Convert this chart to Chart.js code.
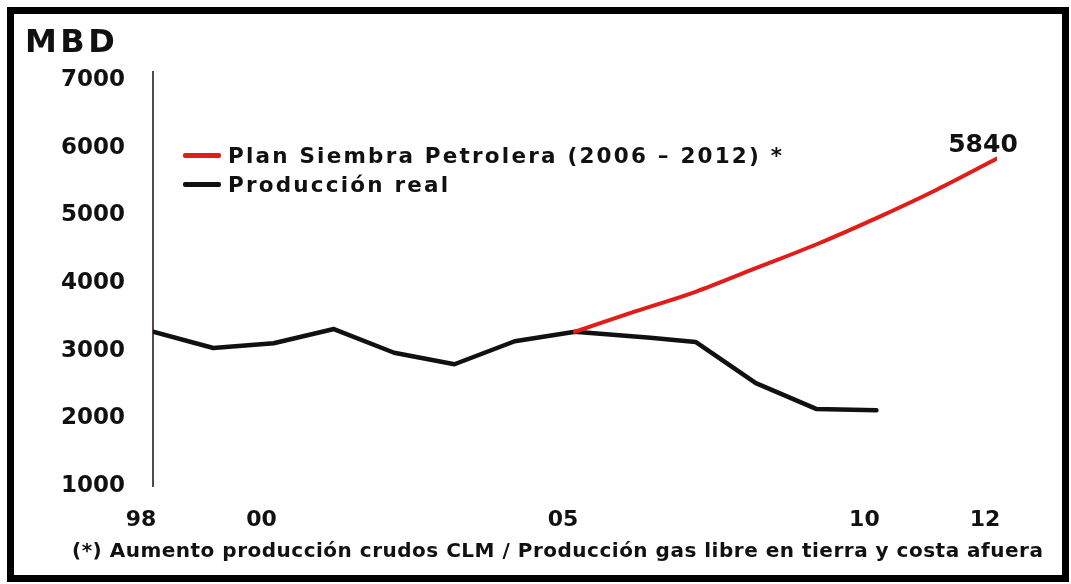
<!DOCTYPE html>
<html>
<head>
<meta charset="utf-8">
<script src="https://cdn.jsdelivr.net/npm/chart.js@4"></script>
<style>
  html, body { margin: 0; padding: 0; background: #fff; }
  #wrap { position: absolute; left: 0; top: 0; width: 1071px; height: 584px; }
  #frame { position: absolute; left: 7px; top: 7px; width: 1062px; height: 575px; border: 7px solid #000; box-sizing: border-box; pointer-events: none; }
  .txt { position: absolute; font-family: "DejaVu Sans", sans-serif; font-weight: bold; color: #111; white-space: nowrap; }
  #unit { left: 25px; top: 22px; font-size: 32px; line-height: 38px; letter-spacing: 3.5px; }
  #legend { left: 183px; top: 141px; font-size: 21.5px; letter-spacing: 2.2px; }
  #note { left: 72px; top: 538px; font-size: 20px; line-height: 24px; letter-spacing: 0.5px; }
  .row { display: flex; align-items: center; height: 29px; }
  .sw { display: inline-block; width: 38px; height: 5px; margin-right: 7px; border-radius: 2px; }
</style>
</head>
<body>
<div id="wrap"><canvas id="c" width="1071" height="584"></canvas></div>
<div id="unit" class="txt"></div>
<div id="legend" class="txt"></div>
<div id="note" class="txt"></div>
<div id="frame"></div>
<script>
// ---- data ----
const planLabel = "Plan Siembra Petrolera (2006 \u2013 2012) *";
const prodLabel = "Producción real";
const planYears = [2005, 2006, 2007, 2008, 2009, 2010, 2011, 2012];
const planValues = [3280, 3580, 3870, 4220, 4570, 4960, 5380, 5840];
const prodYears = [1998, 1999, 2000, 2001, 2002, 2003, 2004, 2005, 2006.25, 2007, 2008, 2009, 2010];
const prodValues = [3280, 3040, 3110, 3320, 2970, 2800, 3140, 3280, 3190, 3130, 2520, 2140, 2120];
const xTickYears = [1998, 2000, 2005, 2010, 2012];
const xTickLabels = ["98", "00", "05", "10", "12"];
const yTickValues = [1000, 2000, 3000, 4000, 5000, 6000, 7000];
const unitTitle = "MBD";
const footnote = "(*) Aumento producción crudos CLM / Producción gas libre en tierra y costa afuera";

const planColor = "#e11d1a";
const prodColor = "#111111";

document.getElementById("unit").textContent = unitTitle;
document.getElementById("note").textContent = footnote;

const endLabelPlugin = {
  id: "endLabel",
  afterDatasetsDraw(chart) {
    const meta = chart.getDatasetMeta(0);
    const pt = meta.data[meta.data.length - 1];
    if (!pt) return;
    const ctx = chart.ctx;
    ctx.save();
    ctx.font = "bold 25px 'DejaVu Sans', sans-serif";
    ctx.fillStyle = "#111";
    ctx.textAlign = "center";
    ctx.textBaseline = "middle";
    ctx.fillText(String(planValues[planValues.length - 1]), pt.x - 14, pt.y - 13);
    ctx.restore();
  }
};

const chart = new Chart(document.getElementById("c"), {
  type: "line",
  data: {
    datasets: [
      {
        label: planLabel,
        data: planYears.map((y, i) => ({ x: y, y: planValues[i] })),
        borderColor: planColor,
        borderWidth: 4,
        pointRadius: 0,
        cubicInterpolationMode: "monotone",
        borderCapStyle: "round",
        fill: false
      },
      {
        label: prodLabel,
        data: prodYears.map((y, i) => ({ x: y, y: prodValues[i] })),
        borderColor: prodColor,
        borderWidth: 4.5,
        pointRadius: 0,
        tension: 0,
        borderJoinStyle: "round",
        borderCapStyle: "round",
        fill: false
      }
    ]
  },
  options: {
    responsive: false,
    animation: false,
    devicePixelRatio: 1,
    layout: { padding: { left: 25, right: 74, top: 72, bottom: 45 } },
    plugins: {
      legend: { display: false },
      tooltip: { enabled: false },
      title: { display: false },
      subtitle: { display: false }
    },
    scales: {
      x: {
        type: "linear",
        min: 1998,
        max: 2012,
        grid: { display: false, drawTicks: false },
        border: { display: false },
        afterBuildTicks(scale) { scale.ticks = xTickYears.map(v => ({ value: v })); },
        afterFit(scale) { scale.height = 53; },
        ticks: {
          autoSkip: false,
          maxRotation: 0,
          padding: 21,
          labelOffset: -12,
          color: "#111",
          font: { family: "DejaVu Sans", size: 22, weight: "bold" },
          callback: (v) => { const i = xTickYears.indexOf(v); return i >= 0 ? xTickLabels[i] : ""; }
        }
      },
      y: {
        type: "linear",
        min: 1000,
        max: 7120,
        grid: { display: false, drawTicks: false },
        border: { display: true, color: "#5a4848", width: 2 },
        afterBuildTicks(scale) { scale.ticks = yTickValues.map(v => ({ value: v })); },
        afterFit(scale) { scale.width = 128; },
        ticks: {
          padding: 28,
          color: "#111",
          font: { family: "DejaVu Sans", size: 23, weight: "bold" },
          callback: (v) => String(v)
        }
      }
    }
  },
  plugins: [endLabelPlugin]
});

// HTML legend built from the datasets
const legendEl = document.getElementById("legend");
chart.data.datasets.forEach(ds => {
  const row = document.createElement("div");
  row.className = "row";
  const sw = document.createElement("span");
  sw.className = "sw";
  sw.style.background = ds.borderColor;
  const tx = document.createElement("span");
  tx.textContent = ds.label;
  row.appendChild(sw);
  row.appendChild(tx);
  legendEl.appendChild(row);
});
</script>
</body>
</html>
